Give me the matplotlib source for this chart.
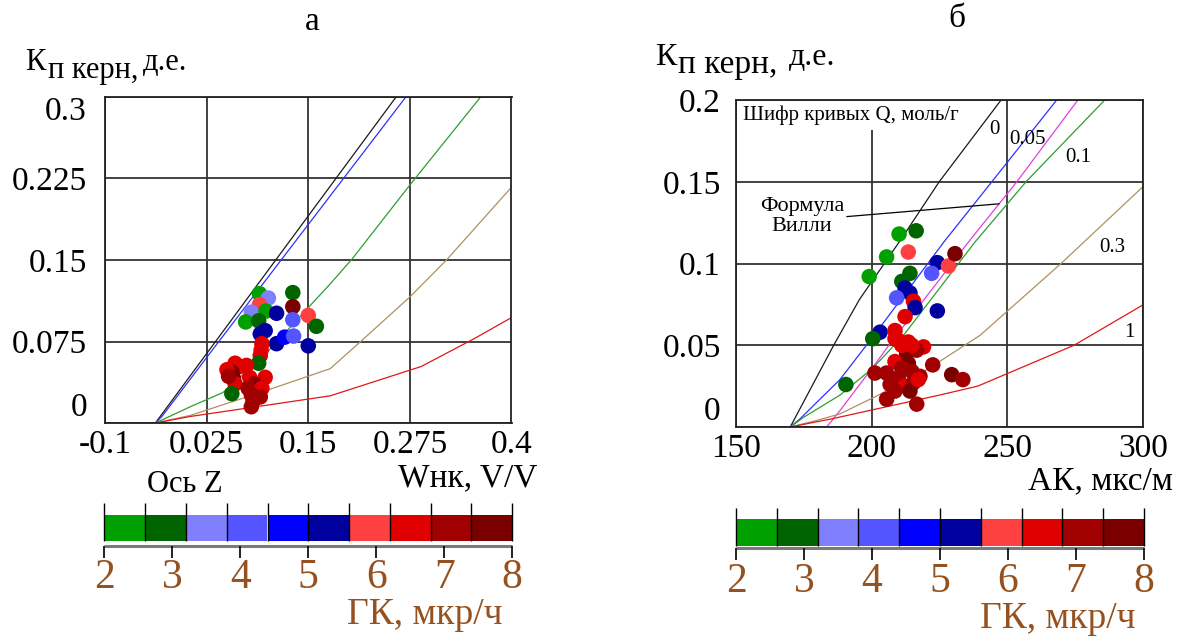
import matplotlib
matplotlib.use("Agg")
import matplotlib.pyplot as plt
from matplotlib.colors import ListedColormap, BoundaryNorm
from matplotlib.patches import Rectangle
import numpy as np

plt.rcParams['font.family'] = ['Liberation Serif', 'DejaVu Serif']

# ---------------- data ----------------
gk_bounds = [2.0, 2.6, 3.2, 3.8, 4.4, 5.0, 5.6, 6.2, 6.8, 7.4, 8.0]
gk_colors = ['#00a000', '#006400', '#8080ff', '#5555ff', '#0000ff',
             '#00009f', '#ff4040', '#e00000', '#a00000', '#7a0000']
gk_ticks = [2, 3, 4, 5, 6, 7, 8]
gk_class_centers = [2.3, 2.9, 3.5, 4.1, 4.7, 5.3, 5.9, 6.5, 7.1, 7.7]

# panel a : W_nk vs Kp
a_w = [0.090, 0.101, 0.090, 0.080, 0.098, 0.073, 0.089, 0.111, 0.131, 0.131,
       0.131, 0.150, 0.160, 0.091, 0.097, 0.111, 0.121, 0.132, 0.150, 0.093,
       0.092, 0.091, 0.089, 0.060, 0.074, 0.066, 0.056, 0.058, 0.060, 0.056,
       0.078, 0.097, 0.084, 0.086, 0.076, 0.093, 0.080, 0.091, 0.082, 0.080,
       0.050, 0.052]
a_k = [0.119, 0.115, 0.109, 0.102, 0.103, 0.093, 0.094, 0.101, 0.120, 0.107,
       0.095, 0.099, 0.089, 0.082, 0.085, 0.073, 0.079, 0.080, 0.071, 0.073,
       0.067, 0.062, 0.055, 0.055, 0.053, 0.052, 0.047, 0.041, 0.036, 0.027,
       0.042, 0.042, 0.036, 0.033, 0.032, 0.032, 0.026, 0.024, 0.020, 0.015,
       0.049, 0.043]
a_cls = [0, 2, 6, 2, 0, 0, 1, 5, 1, 9,
         3, 6, 1, 5, 5, 5, 4, 3, 5, 7,
         7, 7, 1, 7, 7, 7, 9, 9, 7, 1,
         7, 7, 8, 9, 8, 7, 8, 8, 8, 8,
         7, 8]

# panel a curves (Q = 0, 0.05, 0.1, 0.3, 1)
a_c0_w = [-0.038, 0.258]
a_c0_k = [0.0, 0.3]
a_c1_w = [-0.038, -0.03, 0.040, 0.270]
a_c1_k = [0.0, 0.006, 0.075, 0.3]
a_c2_w = [-0.038, 0.005, 0.045, 0.093, 0.177, 0.204, 0.275, 0.362]
a_c2_k = [0.0, 0.015, 0.028, 0.060, 0.128, 0.151, 0.219, 0.3]
a_c3_w = [-0.038, 0.005, 0.091, 0.177, 0.2145, 0.275, 0.320, 0.4]
a_c3_k = [0.0, 0.007, 0.028, 0.050, 0.075, 0.116, 0.150, 0.217]
a_c4_w = [-0.038, 0.005, 0.177, 0.289, 0.355, 0.4]
a_c4_k = [0.0, 0.006, 0.025, 0.052, 0.078, 0.097]

a_xticks = [-0.1, 0.025, 0.15, 0.275, 0.4]
a_xlabels = ['-0.1', '0.025', '0.15', '0.275', '0.4']
a_yticks = [0, 0.075, 0.15, 0.225, 0.3]
a_ylabels = ['0', '0.075', '0.15', '0.225', '0.3']

# panel b : AK vs Kp
b_ak = [210.1, 216.4, 213.5, 205.5, 199.1, 214.1, 211.1, 212.3, 214.1, 209.2,
        215.4, 216.0, 212.3, 224.2, 224.2, 222.1, 228.3, 230.7, 203.1, 200.4,
        190.5, 208.6, 208.6, 213.5, 209.8, 219.1, 212.9, 216.6, 208.6, 213.5,
        222.5, 201.2, 205.5, 211.1, 214.8, 217.8, 209.8, 206.8, 212.3, 215.4,
        214.1, 208.6, 205.5, 216.6, 229.5, 233.6, 211.1, 214.8, 217.2]
b_k = [0.118, 0.120, 0.107, 0.104, 0.092, 0.094, 0.089, 0.085, 0.082, 0.079,
       0.077, 0.073, 0.0675, 0.071, 0.1005, 0.094, 0.0985, 0.106, 0.058, 0.054,
       0.026, 0.059, 0.054, 0.052, 0.053, 0.049, 0.045, 0.047, 0.040, 0.039,
       0.038, 0.033, 0.033, 0.036, 0.034, 0.031, 0.030, 0.026, 0.025, 0.027,
       0.022, 0.022, 0.017, 0.014, 0.032, 0.029, 0.050, 0.050, 0.029]
b_cls = [0, 1, 6, 0, 0, 1, 1, 5, 5, 3,
         7, 5, 7, 5, 5, 3, 6, 9, 5, 1,
         1, 7, 7, 7, 7, 7, 9, 8, 7, 9,
         8, 8, 8, 8, 8, 8, 8, 8, 7, 8,
         9, 8, 8, 8, 9, 8, 7, 7, 7]

b_c0_x = [170, 178, 186, 195.5, 210.5, 224.9, 247.7]
b_c0_k = [0, 0.025, 0.05, 0.078, 0.114, 0.15, 0.2]
b_c1_x = [170, 173.6, 188.3, 200.4, 227, 244.3, 268.2]
b_c1_k = [0, 0.005, 0.029, 0.055, 0.114, 0.15, 0.2]
b_wy_x = [183.4, 188.3, 200.4, 206.8, 235.6, 253.5, 276]
b_wy_k = [0, 0.010, 0.0365, 0.051, 0.113, 0.15, 0.2]
b_c2_x = [170, 175, 188.3, 200.4, 211.7, 238, 256.9, 285.9]
b_c2_k = [0, 0.006, 0.0195, 0.036, 0.056, 0.113, 0.15, 0.2]
b_c3_x = [170, 179.7, 188.3, 203.1, 220.3, 239.9, 269.8, 300]
b_c3_k = [0, 0.004, 0.008, 0.02, 0.035, 0.056, 0.1, 0.147]
b_c4_x = [170, 185.3, 225.2, 239.1, 274.6, 300]
b_c4_k = [0, 0.005, 0.0196, 0.025, 0.05, 0.0747]

b_xticks = [150, 200, 250, 300]
b_xlabels = ['150', '200', '250', '300']
b_yticks = [0, 0.05, 0.1, 0.15, 0.2]
b_ylabels = ['0', '0.05', '0.1', '0.15', '0.2']

curve_labels = ['0', '0.05', '0.1', '0.3', '1']
curve_label_x = [245.2, 257.3, 276.1, 288.8, 294.8]
curve_label_y = [0.1818, 0.1757, 0.1646, 0.110, 0.058]

# ---------------- figure ----------------
W, H = 1181, 637
fig = plt.figure(figsize=(W / 100, H / 100), dpi=100)


def rect(x0, y0, x1, y1):
    return [x0 / W, 1 - y1 / H, (x1 - x0) / W, (y1 - y0) / H]


def ftext(x, y, s, **kw):
    fig.text(x / W, 1 - y / H, s, **kw)


cmap = ListedColormap(gk_colors)
norm = BoundaryNorm(gk_bounds, cmap.N)
brown = '#955220'
TICK_FS = 24
DOT = 125

c_black = '#1a1a1a'
c_blue = '#3030ff'
c_green = '#2e9e2e'
c_tan = '#b09060'
c_red = '#e01818'
c_mag = '#e040e0'


def style_axes(ax, xt, xl, yt, yl, xpad, ypad):
    ax.set_xticks(xt)
    ax.set_xticklabels(xl, fontsize=TICK_FS)
    ax.set_yticks(yt)
    ax.set_yticklabels(yl, fontsize=TICK_FS)
    ax.tick_params(length=0, pad=0)
    ax.tick_params(axis='x', pad=xpad)
    ax.tick_params(axis='y', pad=ypad)
    ax.grid(True, color='#333333', lw=1.3)
    for sp in ax.spines.values():
        sp.set_color('#222222')
        sp.set_linewidth(1.3)


# ---- panel a ----
axa = fig.add_axes(rect(105, 97, 511.5, 423))
axa.set_xlim(-0.1, 0.4)
axa.set_ylim(0, 0.3)
style_axes(axa, a_xticks, a_xlabels, a_yticks, a_ylabels, 5, 13)
labs = axa.get_yticklabels()
labs[0].set_va('bottom')
labs[-1].set_va('top')
for xs, ys, c in [(a_c0_w, a_c0_k, c_black), (a_c1_w, a_c1_k, c_blue),
                  (a_c2_w, a_c2_k, c_green), (a_c3_w, a_c3_k, c_tan),
                  (a_c4_w, a_c4_k, c_red)]:
    axa.plot(xs, ys, color=c, lw=0.9, zorder=2)
axa.scatter(a_w, a_k, c=[gk_class_centers[i] for i in a_cls], cmap=cmap,
            norm=norm, s=DOT, edgecolors='none', zorder=3, clip_on=False)

# ---- panel b ----
axb = fig.add_axes(rect(736, 100, 1143, 427))
axb.set_xlim(150, 300)
axb.set_ylim(0, 0.2)
style_axes(axb, b_xticks, b_xlabels, b_yticks, b_ylabels, 5, 11)
labs = axb.get_yticklabels()
labs[0].set_va('bottom')
for xs, ys, c in [(b_c0_x, b_c0_k, c_black), (b_c1_x, b_c1_k, c_blue),
                  (b_wy_x, b_wy_k, c_mag), (b_c2_x, b_c2_k, c_green),
                  (b_c3_x, b_c3_k, c_tan), (b_c4_x, b_c4_k, c_red)]:
    axb.plot(xs, ys, color=c, lw=0.9, zorder=2)
axb.scatter(b_ak, b_k, c=[gk_class_centers[i] for i in b_cls], cmap=cmap,
            norm=norm, s=DOT, edgecolors='none', zorder=3, clip_on=False)
axb.add_patch(Rectangle((151, 0.1818), 84.5, 0.0178, facecolor='white',
                        edgecolor='none', zorder=1.8))
axb.text(152.5, 0.1905, 'Шифр кривых Q, моль/г', fontsize=15, va='center',
         ha='left', zorder=4)
for s, x, y in zip(curve_labels, curve_label_x, curve_label_y):
    axb.text(x, y, s, fontsize=15, ha='center', va='center', zorder=4)
axb.text(174.3, 0.1288, 'Формула\nВилли', fontsize=16, ha='center',
         va='center', linespacing=1.05, zorder=4)
axb.plot([190.9, 246.9], [0.1287, 0.1365], color='black', lw=0.9, zorder=4)

# ---- titles and axis labels ----
ftext(312, 22, 'а', fontsize=24, ha='center', va='center')
ftext(957, 19, 'б', fontsize=24, ha='center', va='center')

ftext(25, 70, 'К', fontsize=22, ha='left', va='baseline')
ftext(48, 78, 'п керн,', fontsize=22, ha='left', va='baseline')
ftext(143, 70, 'д.е.', fontsize=22, ha='left', va='baseline')

ftext(655, 65, 'К', fontsize=23, ha='left', va='baseline')
ftext(678, 73, 'п керн,', fontsize=24, ha='left', va='baseline')
ftext(789, 65, 'д.е.', fontsize=23, ha='left', va='baseline')

ftext(537, 486, 'Wнк, V/V', fontsize=24, ha='right', va='baseline')
ftext(1173, 489, 'АК, мкс/м', fontsize=24, ha='right', va='baseline')
ftext(147, 485, 'Ось Z', fontsize=22, ha='left', va='center')


# ---- colour scales ----
def colour_scale(x0, x1, line_top, band_top, band_bot, gray_y, tick_bot,
                 lab_y, title_x, title_y):
    ax = fig.add_axes(rect(x0, line_top - 2, x1, tick_bot + 2))
    ax.set_xlim(2, 8)
    ax.set_ylim(tick_bot + 2, line_top - 2)
    ax.axis('off')
    lefts = gk_bounds[:-1]
    widths = np.diff(gk_bounds)
    ax.bar(lefts, band_bot - band_top, width=widths, bottom=band_top,
           align='edge', color=gk_colors, edgecolor='none')
    ax.vlines(gk_bounds, line_top, band_bot, color='black', lw=1.0,
              clip_on=False)
    ax.hlines(gray_y, 2, 8, color='#7a7a7a', lw=2.2, clip_on=False)
    ax.vlines(gk_ticks, gray_y, tick_bot, color='black', lw=1.2,
              clip_on=False)
    for t in gk_ticks:
        xp = x0 + (t - 2) / 6 * (x1 - x0)
        ftext(xp, lab_y, str(t), fontsize=30, color=brown, ha='center',
              va='center')
    ftext(title_x, title_y, 'ГК, мкр/ч', fontsize=27, color=brown,
          ha='right', va='center')


colour_scale(104.3, 512.3, 503, 515, 541, 546, 558, 578, 503, 615)
colour_scale(736, 1144, 508, 519, 545.5, 548, 560, 582, 1135, 619)

fig.savefig('out.png', dpi=100)
